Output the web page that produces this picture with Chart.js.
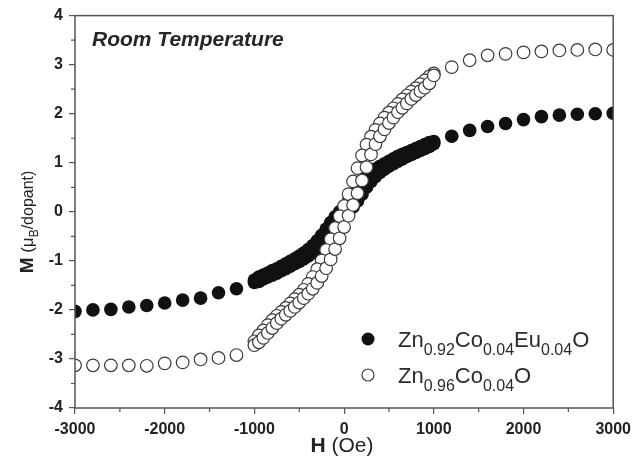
<!DOCTYPE html>
<html>
<head>
<meta charset="utf-8">
<script src="https://cdn.jsdelivr.net/npm/chart.js@4.4.0/dist/chart.umd.min.js"></script>
<style>
  html, body { margin: 0; padding: 0; background: #ffffff; }
  #wrap { width: 637px; height: 465px; }
</style>
</head>
<body>
<div id="wrap"><canvas id="chart" width="637" height="465"></canvas></div>
<script>
// magnetic field (Oe), sparse wings and dense central loop
const fieldLow = [-3000, -2800, -2600, -2400, -2200, -2000, -1800, -1600, -1400, -1200];
const fieldHigh = [1200, 1400, 1600, 1800, 2000, 2200, 2400, 2600, 2800, 3000];
const fieldLoop = [-1000, -950, -900, -850, -800, -750, -700, -650, -600, -550, -500, -450, -400, -350, -300, -250, -200, -150, -100, -50,
  0, 50, 100, 150, 200, 250, 300, 350, 400, 450, 500, 550, 600, 650, 700, 750, 800, 850, 900, 950, 1000];

// Zn0.92Co0.04Eu0.04O (filled)
const euLow = [-2.03, -2.00, -1.99, -1.94, -1.91, -1.86, -1.80, -1.76, -1.65, -1.57];
const euHigh = [1.54, 1.66, 1.74, 1.80, 1.88, 1.94, 1.97, 1.99, 2.00, 2.01];
const euDown = [-1.39, -1.33, -1.29, -1.25, -1.20, -1.16, -1.11, -1.06, -1.01, -0.96, -0.90, -0.84, -0.77, -0.69, -0.59, -0.48, -0.35, -0.22, -0.10, 0.00,
  0.10, 0.22, 0.36, 0.50, 0.62, 0.72, 0.80, 0.87, 0.93, 0.98, 1.03, 1.08, 1.13, 1.17, 1.21, 1.25, 1.29, 1.33, 1.37, 1.41, 1.43];
const euUp = [-1.44, -1.42, -1.37, -1.33, -1.29, -1.25, -1.20, -1.16, -1.11, -1.06, -1.01, -0.96, -0.90, -0.84, -0.77, -0.69, -0.59, -0.48, -0.35, -0.22,
  -0.10, 0.00, 0.10, 0.22, 0.36, 0.50, 0.62, 0.72, 0.80, 0.87, 0.93, 0.98, 1.03, 1.08, 1.13, 1.17, 1.21, 1.25, 1.29, 1.33, 1.39];

// Zn0.96Co0.04O (open)
const coLow = [-3.13, -3.13, -3.13, -3.13, -3.14, -3.09, -3.07, -3.01, -2.98, -2.92];
const coHigh = [2.95, 3.09, 3.19, 3.22, 3.25, 3.27, 3.29, 3.30, 3.31, 3.30];
const coDown = [-2.64, -2.52, -2.42, -2.31, -2.21, -2.12, -2.04, -1.96, -1.87, -1.78, -1.69, -1.59, -1.47, -1.33, -1.17, -0.99, -0.78, -0.56, -0.33, -0.09,
  0.12, 0.36, 0.62, 0.89, 1.15, 1.37, 1.53, 1.67, 1.80, 1.92, 2.02, 2.11, 2.20, 2.29, 2.37, 2.45, 2.52, 2.60, 2.68, 2.76, 2.82];
const coUp = [-2.72, -2.66, -2.57, -2.47, -2.37, -2.27, -2.18, -2.10, -2.02, -1.94, -1.85, -1.76, -1.67, -1.57, -1.45, -1.31, -1.15, -0.97, -0.76, -0.54,
  -0.31, -0.08, 0.14, 0.38, 0.64, 0.91, 1.17, 1.38, 1.54, 1.68, 1.81, 1.92, 2.03, 2.12, 2.21, 2.30, 2.38, 2.46, 2.53, 2.62, 2.78];

const FONT = 'Arial, "Liberation Sans", sans-serif';

function pts(xs, ys) {
  return xs.map((x, i) => ({ x: x, y: ys[i] }));
}

function loopData(low, down, up, high) {
  return [].concat(
    pts(fieldHigh, high),
    pts(fieldLoop, down).reverse(),
    pts(fieldLow, low),
    pts(fieldLoop, up)
  );
}

// draw a line of text made of runs with different fonts / baseline shifts
function drawRuns(ctx, runs, x, y, align) {
  let total = 0;
  runs.forEach(r => { ctx.font = r.font; r.w = ctx.measureText(r.text).width; total += r.w; });
  let cx = align === 'center' ? x - total / 2 : x;
  ctx.textAlign = 'left';
  ctx.textBaseline = 'alphabetic';
  runs.forEach(r => {
    ctx.font = r.font;
    ctx.fillText(r.text, cx, y + (r.dy || 0));
    cx += r.w;
  });
}

function formula(parts) {
  // parts: [text, sub, text, sub, ...]
  return parts.map((t, i) => i % 2 === 0
    ? { text: t, font: '22px ' + FONT }
    : { text: t, font: '16px ' + FONT, dy: 8 });
}

const decor = {
  id: 'decor',
  afterDraw(chart) {
    const ctx = chart.ctx;
    const a = chart.chartArea;
    const xs = chart.scales.x, ys = chart.scales.y;
    ctx.save();

    // frame
    ctx.strokeStyle = '#555';
    ctx.lineWidth = 1.5;
    ctx.strokeRect(a.left, a.top, a.right - a.left, a.bottom - a.top);

    // minor ticks
    ctx.lineWidth = 1.2;
    ctx.beginPath();
    for (let v = -2500; v <= 2500; v += 1000) {
      const px = xs.getPixelForValue(v);
      ctx.moveTo(px, a.bottom); ctx.lineTo(px, a.bottom + 4);
    }
    for (let v = -3.5; v <= 3.5; v += 1) {
      const py = ys.getPixelForValue(v);
      ctx.moveTo(a.left, py); ctx.lineTo(a.left - 4, py);
    }
    ctx.stroke();

    // annotation
    ctx.fillStyle = '#262626';
    ctx.font = 'italic bold 21px ' + FONT;
    ctx.textAlign = 'left';
    ctx.textBaseline = 'alphabetic';
    ctx.fillText('Room Temperature', 92, 46);

    // legend
    ctx.fillStyle = '#111';
    ctx.beginPath(); ctx.arc(368, 339, 6.5, 0, Math.PI * 2); ctx.fill();
    ctx.fillStyle = '#fff';
    ctx.strokeStyle = '#444';
    ctx.lineWidth = 1.2;
    ctx.beginPath(); ctx.arc(368, 375, 6, 0, Math.PI * 2); ctx.fill(); ctx.stroke();
    ctx.fillStyle = '#2b2b2b';
    drawRuns(ctx, formula(['Zn', '0.92', 'Co', '0.04', 'Eu', '0.04', 'O']), 398, 347, 'left');
    drawRuns(ctx, formula(['Zn', '0.96', 'Co', '0.04', 'O']), 398, 383, 'left');

    // axis titles
    ctx.fillStyle = '#222';
    drawRuns(ctx, [
      { text: 'H', font: 'bold 21px ' + FONT },
      { text: ' (Oe)', font: '21px ' + FONT }
    ], 342, 452, 'center');

    ctx.translate(33, 222);
    ctx.rotate(-Math.PI / 2);
    drawRuns(ctx, [
      { text: 'M', font: 'bold 19px ' + FONT },
      { text: ' (\u03bc', font: '17px ' + FONT },
      { text: 'B', font: '12px ' + FONT, dy: 5 },
      { text: '/dopant)', font: '16px ' + FONT }
    ], 0, 0, 'center');
    ctx.restore();
  }
};

const tickFont = { family: FONT, size: 16, weight: 'bold' };

new Chart(document.getElementById('chart'), {
  type: 'scatter',
  data: {
    datasets: [
      {
        label: 'Zn0.96Co0.04O',
        data: loopData(coLow, coDown, coUp, coHigh),
        pointRadius: 6.3,
        pointBorderWidth: 1.2,
        pointBackgroundColor: '#ffffff',
        pointBorderColor: '#3a3a3a',
        order: 0
      },
      {
        label: 'Zn0.92Co0.04Eu0.04O',
        data: loopData(euLow, euDown, euUp, euHigh),
        pointRadius: 6.8,
        pointBorderWidth: 0,
        pointBackgroundColor: '#111111',
        pointBorderColor: '#111111',
        order: 1
      }
    ]
  },
  options: {
    responsive: false,
    animation: false,
    devicePixelRatio: 1,
    layout: { padding: { left: 0, top: 15, right: 20, bottom: 0 } },
    plugins: {
      legend: { display: false },
      tooltip: { enabled: false }
    },
    scales: {
      x: {
        type: 'linear',
        min: -3000,
        max: 3000,
        afterFit: s => { s.height = 57; },
        border: { display: false },
        grid: { drawOnChartArea: false, drawTicks: true, tickLength: 6, color: '#555', lineWidth: 1.2 },
        ticks: { stepSize: 1000, font: tickFont, color: '#222', padding: 6, maxRotation: 0, callback: v => String(v) }
      },
      y: {
        type: 'linear',
        min: -4,
        max: 4,
        afterFit: s => { s.width = 75; },
        border: { display: false },
        grid: { drawOnChartArea: false, drawTicks: true, tickLength: 6, color: '#555', lineWidth: 1.2 },
        ticks: { stepSize: 1, font: tickFont, color: '#222', padding: 6, callback: v => String(v) }
      }
    }
  },
  plugins: [decor]
});
</script>
</body>
</html>
